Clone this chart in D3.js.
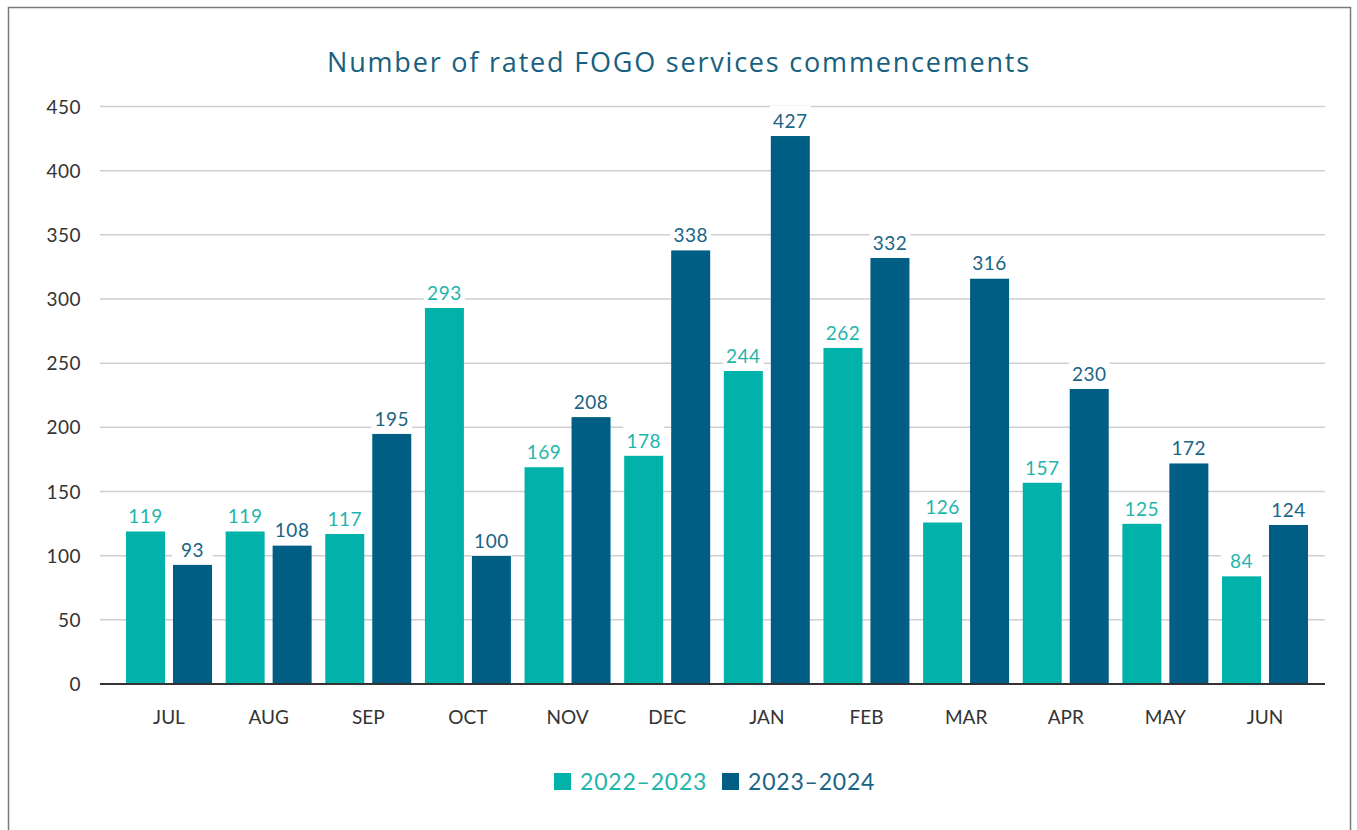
<!DOCTYPE html>
<html>
<head>
<meta charset="utf-8">
<script src="https://cdn.jsdelivr.net/npm/d3@7"></script>
<style>
  body { margin: 0; background: #fff; }
  svg { display: block; font-family: 'Lato', 'Open Sans', sans-serif; }
</style>
</head>
<body>
<svg id="chart" width="1357" height="830"></svg>
<script>
var months = ['JUL', 'AUG', 'SEP', 'OCT', 'NOV', 'DEC', 'JAN', 'FEB', 'MAR', 'APR', 'MAY', 'JUN'];
var seriesNames = ['2022\u20132023', '2023\u20132024'];
var values2223 = [119, 119, 117, 293, 169, 178, 244, 262, 126, 157, 125, 84];
var values2324 = [93, 108, 195, 100, 208, 338, 427, 332, 316, 230, 172, 124];
var yTicks = [0, 50, 100, 150, 200, 250, 300, 350, 400, 450];

var colors = ['#00b2a9', '#005e85'];
var labelColors = ['#1fb5ac', '#1a6485'];

var svg = d3.select('#chart');

// outer frame
svg.append('rect')
    .attr('x', 8.5).attr('y', 7.5)
    .attr('width', 1342).attr('height', 840)
    .attr('fill', 'none')
    .attr('stroke', '#7a7a7a')
    .attr('stroke-width', 1.5);

svg.append('text')
    .attr('x', 679).attr('y', 72)
    .attr('text-anchor', 'middle')
    .attr('font-family', "'Open Sans', sans-serif")
    .attr('font-size', 27)
    .attr('letter-spacing', 1.8)
    .attr('fill', '#17607f')
    .text('Number of rated FOGO services commencements');

var left = 100, right = 1325;

var y = d3.scaleLinear().domain([0, 450]).range([684, 106.5]);

var x = d3.scaleBand().domain(months).range([126, 1308]).paddingInner(0.137).paddingOuter(0);
var xi = d3.scaleBand().domain([0, 1]).range([0, x.bandwidth()]).paddingInner(0.17);

// gridlines
svg.append('g')
    .selectAll('line')
    .data(yTicks.filter(function (d) { return d > 0; }))
    .enter().append('line')
    .attr('x1', left).attr('x2', right)
    .attr('y1', function (d) { return y(d); })
    .attr('y2', function (d) { return y(d); })
    .attr('stroke', '#cfcfcf')
    .attr('stroke-width', 1.5);

// y tick labels
svg.append('g')
    .selectAll('text')
    .data(yTicks)
    .enter().append('text')
    .attr('x', 81)
    .attr('y', function (d) { return y(d) + 7; })
    .attr('text-anchor', 'end')
    .attr('font-size', 19)
    .attr('letter-spacing', 0.5)
    .attr('fill', '#333')
    .text(function (d) { return d; });

var rows = months.map(function (m, i) {
    return { month: m, vals: [values2223[i], values2324[i]] };
});

var groups = svg.append('g')
    .selectAll('g')
    .data(rows)
    .enter().append('g')
    .attr('transform', function (d) { return 'translate(' + x(d.month) + ',0)'; });

var bars = groups.selectAll('g')
    .data(function (d) { return d.vals.map(function (v, k) { return { k: k, v: v }; }); })
    .enter().append('g');

bars.append('rect')
    .attr('x', function (d) { return xi(d.k); })
    .attr('width', xi.bandwidth())
    .attr('y', function (d) { return y(d.v); })
    .attr('height', function (d) { return y(0) - y(d.v); })
    .attr('fill', function (d) { return colors[d.k]; });

// label background boxes
bars.append('rect')
    .attr('x', function (d) { return xi(d.k) - 1; })
    .attr('width', xi.bandwidth() + 2)
    .attr('y', function (d) { return y(d.v) - 30; })
    .attr('height', 30)
    .attr('fill', '#fff');

bars.append('text')
    .attr('x', function (d) { return xi(d.k) + xi.bandwidth() / 2; })
    .attr('y', function (d) { return y(d.v) - 8; })
    .attr('text-anchor', 'middle')
    .attr('font-size', 19)
    .attr('letter-spacing', 0.5)
    .attr('fill', function (d) { return labelColors[d.k]; })
    .text(function (d) { return d.v; });

// baseline
svg.append('line')
    .attr('x1', left).attr('x2', right)
    .attr('y1', y(0)).attr('y2', y(0))
    .attr('stroke', '#333')
    .attr('stroke-width', 2);

// x labels
svg.append('g')
    .selectAll('text')
    .data(months)
    .enter().append('text')
    .attr('x', function (d) { return x(d) + x.bandwidth() / 2; })
    .attr('y', 724)
    .attr('text-anchor', 'middle')
    .attr('font-size', 19)
    .attr('fill', '#333')
    .text(function (d) { return d; });

// legend
var legendX = [554, 722];
var legend = svg.append('g')
    .selectAll('g')
    .data(seriesNames)
    .enter().append('g')
    .attr('transform', function (d, i) { return 'translate(' + legendX[i] + ',773)'; });

legend.append('rect')
    .attr('width', 17).attr('height', 17)
    .attr('fill', function (d, i) { return colors[i]; });

legend.append('text')
    .attr('x', 26).attr('y', 17)
    .attr('font-size', 23)
    .attr('letter-spacing', 0.8)
    .attr('fill', function (d, i) { return labelColors[i]; })
    .text(function (d) { return d; });
</script>
</body>
</html>
